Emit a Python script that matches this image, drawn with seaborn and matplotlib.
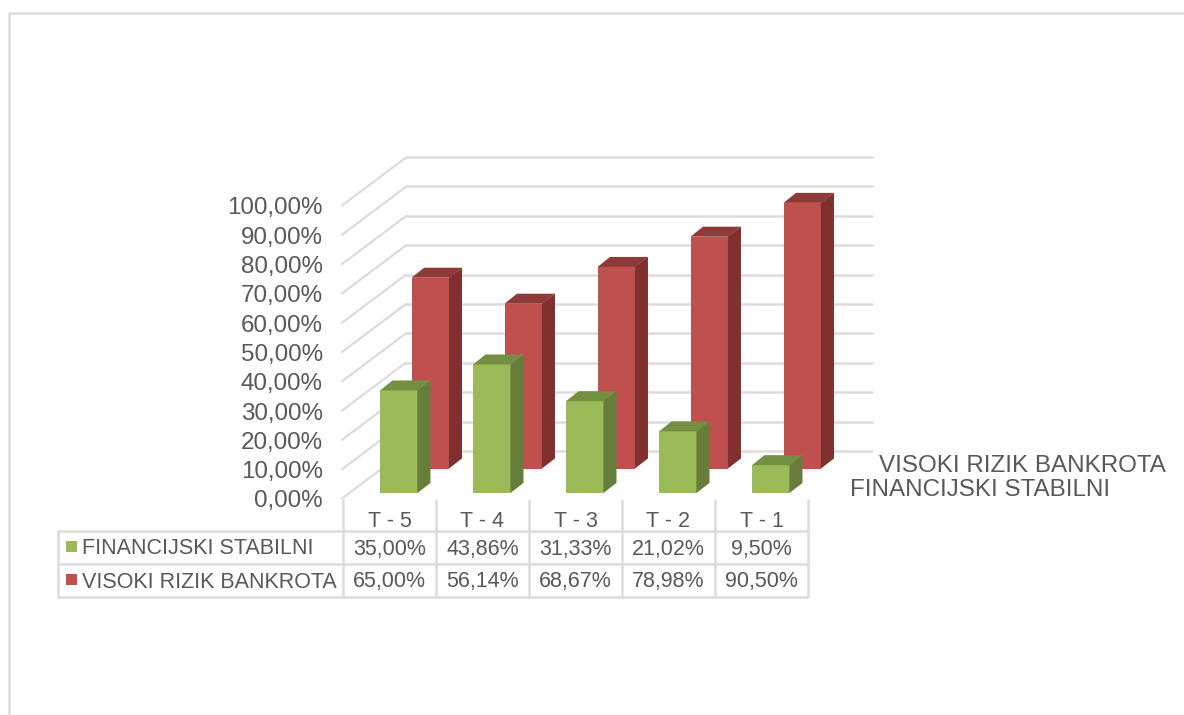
import numpy as np
import matplotlib
matplotlib.use("Agg")
import matplotlib.pyplot as plt
import seaborn as sns
from matplotlib.patches import Rectangle
from matplotlib.ticker import FuncFormatter

# -----------------------------
# Data
# -----------------------------
periods = ["T - 5", "T - 4", "T - 3", "T - 2", "T - 1"]
stable = [35.00, 43.86, 31.33, 21.02, 9.50]
high_risk = [65.00, 56.14, 68.67, 78.98, 90.50]
y_ticks = [0, 10, 20, 30, 40, 50, 60, 70, 80, 90, 100]
stable_name = "FINANCIJSKI STABILNI"
risk_name = "VISOKI RIZIK BANKROTA"

# -----------------------------
# Plot Settings
# -----------------------------
W, H = 1184, 715
sns.set_style("white")
plt.rcParams["font.family"] = ["Liberation Sans", "DejaVu Sans"]

TEXT = "#595959"
LINE = "#DCDCDC"
GREEN = ("#9BBB59", "#748E42", "#677D3B")
RED = ("#C0504D", "#8F3A38", "#7F302F")

fig = plt.figure(figsize=(W / 100, H / 100), dpi=100, facecolor="white")


def px_axes(left, top, right, bottom):
    ax = fig.add_axes([left / W, 1 - bottom / H, (right - left) / W, (bottom - top) / H])
    ax.patch.set_alpha(0)
    sns.despine(ax=ax, left=True, bottom=True)
    return ax


def pixel_layer():
    ax = px_axes(0, 0, W, H)
    ax.set_xlim(0, W)
    ax.set_ylim(H, 0)
    ax.set_xticks([])
    ax.set_yticks([])
    return ax


def pct(v):
    return f"{v:.2f}".replace(".", ",") + "%"


def bars_3d(ax, values, colors):
    bar_w = 0.408
    sns.barplot(x=periods, y=values, color=colors[0], saturation=1, width=bar_w,
                linewidth=0, ax=ax)
    ax.set_xlim(-0.5, 4.5)
    ax.set_ylim(0, 100)
    ax.set_xticks([])
    ax.set_yticks([])
    dx = 12.5 / 93
    dy = 10 / 2.93
    seam = 0.006  # side face overlaps the front a little, no white hairline
    for i, v in enumerate(values):
        r = i + bar_w / 2
        l = i - bar_w / 2
        ax.fill([r - seam, r + dx, r + dx, r - seam], [0, dy, v + dy, v], color=colors[2], lw=0, clip_on=False)
        ax.fill([l, l + dx, r + dx, r], [v, v + dy, v + dy, v], color=colors[1], lw=0, clip_on=False)


# -----------------------------
# Back wall and side wall
# -----------------------------
wall = px_axes(406, 157, 872, 451)
wall.set_ylim(0, 100)
wall.set_xlim(0, 1)
wall.set_xticks([])
wall.set_yticks(y_ticks)
wall.tick_params(left=False, labelleft=False)
wall.grid(axis="y", color=LINE, lw=1.8)
for line in wall.get_ygridlines():
    line.set_clip_on(False)
for s in wall.spines.values():
    s.set_visible(False)

side = pixel_layer()
for t in y_ticks:
    y_front = 498.5 - t * 2.93
    side.plot([342, 406], [y_front, y_front - 48], color=LINE, lw=1.6)

front = px_axes(343, 206, 344, 499)
front.set_ylim(0, 100)
front.set_xticks([])
front.set_yticks(y_ticks)
front.yaxis.set_major_formatter(FuncFormatter(lambda v, _: pct(v)))
front.tick_params(left=False, pad=11, labelsize=17.4, labelcolor=TEXT)

# -----------------------------
# Bars: red row sits behind the green one
# -----------------------------
bars_3d(px_axes(384, 175, 849, 468.5), high_risk, RED)
bars_3d(px_axes(352.5, 200, 817.5, 493), stable, GREEN)

# -----------------------------
# Frame, table and depth labels in pixels
# -----------------------------
over = pixel_layer()

over.plot([9, 9, 1184], [715, 13, 13], color=LINE, lw=1.8)

col_edges = [343 + 93 * i for i in range(6)]
for x in col_edges:
    over.plot([x, x], [500, 597], color=LINE, lw=1.8)
over.plot([58, 58], [531, 597], color=LINE, lw=1.8)
for y in [531, 564, 597]:
    over.plot([58, col_edges[-1]], [y, y], color=LINE, lw=1.8)

for i, name in enumerate(periods):
    cx = col_edges[i] + 46.5
    over.text(cx, 527, name, ha="center", va="baseline", fontsize=15.5, color=TEXT)
    over.text(cx, 554.5, pct(stable[i]), ha="center", va="baseline", fontsize=15.5, color=TEXT)
    over.text(cx, 587.5, pct(high_risk[i]), ha="center", va="baseline", fontsize=15.5, color=TEXT)

over.add_patch(Rectangle((66, 541), 11, 11, color=GREEN[0], lw=0))
over.add_patch(Rectangle((66, 574), 11, 11, color=RED[0], lw=0))
over.text(82, 554.5, stable_name, va="baseline", fontsize=15.5, color=TEXT)
over.text(82, 587.5, risk_name, va="baseline", fontsize=15.5, color=TEXT)

over.text(879, 472, risk_name, va="baseline", fontsize=17.4, color=TEXT)
over.text(850, 496, stable_name, va="baseline", fontsize=17.4, color=TEXT)

fig.savefig("out.png", dpi=100)
